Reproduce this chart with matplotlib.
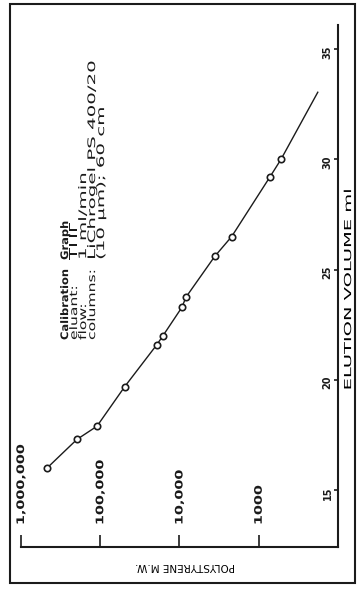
import matplotlib
matplotlib.use("Agg")
import matplotlib.pyplot as plt
from matplotlib import patheffects
from matplotlib.patches import Rectangle
from matplotlib.ticker import NullLocator
from matplotlib.transforms import Affine2D, blended_transform_factory

# polystyrene standards: elution volume (ml) vs. molecular weight
volume = [16.0, 17.3, 17.9, 19.7, 21.6, 22.0, 23.3, 23.75, 25.6, 26.5, 29.2, 30.0]
mol_weight = [470000, 197000, 110000, 49000, 19300, 16200, 9300, 8300,
              3600, 2200, 725, 525]

# hand drawn calibration curve through the standards
curve_volume = [16.0, 17.3, 17.9, 19.7, 21.6, 22.0, 23.3, 23.75, 25.6,
                26.5, 29.2, 30.0, 33.05]
curve_mw = [470000, 197000, 110000, 49000, 19300, 16200, 9300, 8300,
            3600, 2200, 725, 525, 180]

mw_ticks = [1e6, 1e5, 1e4, 1e3]
mw_labels = ["1,000,000", "100,000", "10,000", "1000"]
volume_ticks = [15, 20, 25, 30, 35]

info_keys = ["Calibration", "eluant:", "flow:", "columns:", ""]
info_values = ["Graph", "THF", "1 ml/min", "LiChrogel PS 400/20",
               "(10 \u00b5m); 60 cm"]

INK = "#1b1b1b"
plt.rcParams["font.family"] = ["DejaVu Sans"]
plt.rcParams["font.weight"] = "bold"
plt.rcParams["text.color"] = INK


class Widen(patheffects.AbstractPathEffect):
    """Draw glyphs stretched along the baseline (extended type)."""

    def __init__(self, factor, about="start"):
        super().__init__()
        self.factor = factor
        self.about = about

    def draw_path(self, renderer, gc, tpath, affine, rgbFace=None):
        c = 0.0
        if self.about == "center" and len(tpath.vertices):
            ext = tpath.get_extents()
            c = (ext.x0 + ext.x1) / 2
        pre = Affine2D().translate(-c, 0).scale(self.factor, 1).translate(c, 0)
        renderer.draw_path(gc, tpath, Affine2D(affine.get_matrix() @ pre.get_matrix()),
                           rgbFace)


fig = plt.figure(figsize=(3.57, 5.94), dpi=100)
# the graph is printed turned on its side: MW runs across, volume runs up
ax = fig.add_axes([0.0588, 0.0791, 0.888, 0.8788])

ax.plot(curve_mw, curve_volume, color=INK, lw=1.0, zorder=2)
ax.plot(mol_weight, volume, "o", ms=4.6, mfc="white", mec=INK, mew=1.2, zorder=3)

ax.set_xscale("log")
ax.set_xlim(1e6, 1e2)
ax.set_ylim(12.42, 36.1)
ax.set_xticks(mw_ticks)
ax.xaxis.set_minor_locator(NullLocator())
ax.set_yticks(volume_ticks)

for side in ("top", "left"):
    ax.spines[side].set_visible(False)
for side in ("bottom", "right"):
    ax.spines[side].set_linewidth(1.5)
    ax.spines[side].set_color(INK)

ax.tick_params(axis="x", direction="in", length=9, width=1.2, color=INK,
               labelbottom=False)
ax.yaxis.tick_right()
ax.tick_params(axis="y", direction="in", length=3, width=1.2, color=INK,
               pad=-11, labelsize=7, labelrotation=90, labelcolor=INK)

# MW labels stand upright inside the frame, above the ticks
lab_tr = blended_transform_factory(ax.transData, ax.transAxes)
for pos, lab in zip(mw_ticks, mw_labels):
    ax.text(pos, 0.042, lab, transform=lab_tr, rotation=90,
            rotation_mode="anchor", ha="left", va="center", fontsize=7.5,
            path_effects=[Widen(1.38)])

ax.set_xlabel("POLYSTYRENE M.W.", rotation=180, fontsize=7.5)
ax.xaxis.set_label_coords(0.517, -0.027)

ax.yaxis.set_label_position("right")
ax.set_ylabel("ELUTION VOLUME ml", rotation=90, fontsize=7,
              path_effects=[Widen(2.0, "center")])
ax.yaxis.set_label_coords(1.016, 0.494)

# conditions block
for i, (key, val) in enumerate(zip(info_keys, info_values)):
    x = 0.139 + i * 0.0284
    bold = i == 0
    weight = "bold" if bold else "normal"
    if key:
        ax.text(x, 0.3966, key, transform=ax.transAxes, rotation=90,
                rotation_mode="anchor", ha="left", va="center", fontsize=7.5,
                fontweight=weight, path_effects=[Widen(1.1 if bold else 1.5)])
    ax.text(x, 0.55, val, transform=ax.transAxes, rotation=90,
            rotation_mode="anchor", ha="left", va="center", fontsize=7.5,
            fontweight=weight, path_effects=[Widen(1.1 if bold else 1.9)])

# page frame
fig.add_artist(Rectangle((0.028, 0.0185), 0.966, 0.9748, transform=fig.transFigure,
                         fill=False, lw=1.5, ec=INK))

fig.savefig("out.png", dpi=100)
